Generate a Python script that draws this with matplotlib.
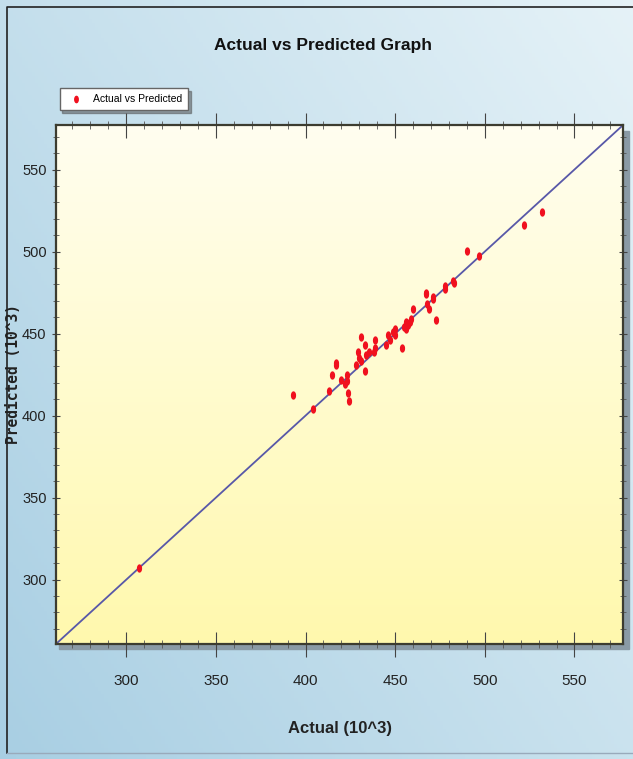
import numpy as np
import matplotlib.pyplot as plt
from matplotlib.patches import Rectangle

plt.rcParams['font.family'] = ['Liberation Sans', 'DejaVu Sans']

actual = [307, 393, 404, 413, 415, 417, 417, 420, 422, 423,
          423.5, 424, 423, 428, 429, 431, 431, 430, 433, 433,
          434, 435.5, 438, 439, 439, 445, 446, 447, 449, 450,
          450, 454, 455, 456, 456, 457, 458, 459, 460, 467,
          467, 468, 469, 471, 471, 473, 478, 478, 482, 483,
          490, 497, 522, 532]
predicted = [307, 412.5, 404, 415, 425, 432, 431, 422, 419, 421,
             414, 409, 425, 431, 439, 448, 433, 435, 427, 443,
             437, 439, 439, 446, 441, 443, 449, 446, 451, 453,
             449, 441, 454, 457, 453, 455, 457, 459, 465, 475,
             474, 468, 465, 472, 471, 458, 477, 479, 482, 481,
             500.5, 497.5, 516, 524]
ticks = [300, 350, 400, 450, 500, 550]
lims = (261, 577)

fig = plt.figure(figsize=(6.33, 7.59), dpi=100)

# blue gradient background of the whole picture
bg = fig.add_axes([0, 0, 1, 1], zorder=-10)
gx = np.linspace(0, 1, 200)
gy = np.linspace(0, 1, 200)
GX, GY = np.meshgrid(gx, gy)
t = np.clip(0.55 * GX + 0.45 * GY, 0, 1)
c0 = np.array([0.66, 0.81, 0.89])
c1 = np.array([0.90, 0.95, 0.97])
img = c0[None, None, :] * (1 - t[..., None]) + c1[None, None, :] * t[..., None]
bg.imshow(img, origin='lower', extent=(0, 1, 0, 1), aspect='auto')
bg.set_xlim(0, 1); bg.set_ylim(0, 1)
bg.axis('off')
bg.plot([0.011, 0.011, 1.0], [0.008, 0.991, 0.991], color='#222222', lw=1.2)
bg.plot([0.011, 1.0], [0.008, 0.008], color='#9ab', lw=1)
# shadow for the plot area
bg.add_patch(Rectangle((0.093, 0.145), 0.900, 0.683, color='#8a9aa5', zorder=1))

ax = fig.add_axes([0.089, 0.152, 0.895, 0.683])
ax.set_xlim(*lims)
ax.set_ylim(*lims)

# yellow gradient inside the plot area
yy = np.linspace(0, 1, 200)[:, None]
top = np.array([1.0, 0.995, 0.94])
bot = np.array([1.0, 0.975, 0.68])
grad = bot[None, :] * (1 - yy) + top[None, :] * yy
ax.imshow(grad[:, None, :].repeat(2, axis=1), origin='lower',
          extent=(lims[0], lims[1], lims[0], lims[1]), aspect='auto', zorder=0)

ax.plot(lims, lims, color='#5858a8', lw=1.3, zorder=2)

ell = np.linspace(0, 2 * np.pi, 30)
marker = np.column_stack([0.55 * np.cos(ell), np.sin(ell)])
ax.plot(actual, predicted, linestyle='none', marker=marker, markersize=5,
        color='#f0101e', label='Actual vs Predicted', zorder=3)

ax.set_xticks(ticks)
ax.set_yticks(ticks)
ax.set_xticks(np.arange(270, 580, 10), minor=True)
ax.set_yticks(np.arange(270, 580, 10), minor=True)
ax.tick_params(axis='x', which='major', direction='inout', length=18, top=True,
               labelsize=11, colors='#444444', labelcolor='#222222', pad=13)
ax.tick_params(axis='x', which='minor', direction='inout', length=6, top=True,
               colors='#555555')
ax.tick_params(axis='y', which='major', direction='inout', length=6, right=True,
               labelsize=10.5, colors='#444444', labelcolor='#222222', pad=4)
ax.tick_params(axis='y', which='minor', direction='inout', length=5, right=True,
               colors='#555555')
for s in ax.spines.values():
    s.set_color('#3c3c30')
    s.set_linewidth(1.6)

ax.set_xlabel('Actual (10^3)', fontsize=12, fontweight='bold', color='#222222')
ax.xaxis.set_label_coords(0.50, -0.15)
ax.set_ylabel('Predicted (10^3)', fontsize=10.5, fontweight='bold', color='#222222',
              family=['DejaVu Sans Mono'])
ax.yaxis.set_label_coords(-0.062, 0.52)
fig.text(0.51, 0.94, 'Actual vs Predicted Graph', ha='center', va='center',
         fontsize=12.5, fontweight='bold', color='#111111')

leg = ax.legend(loc='upper left', bbox_to_anchor=(0.086, 0.891),
                bbox_transform=fig.transFigure, fontsize=7.5, frameon=True,
                fancybox=False, shadow=True, handletextpad=0.6, borderpad=0.6,
                markerscale=0.9)
leg.get_frame().set_edgecolor('#666666')
leg.get_frame().set_facecolor('white')
leg.get_frame().set_alpha(1)

fig.savefig('out.png', dpi=100)
